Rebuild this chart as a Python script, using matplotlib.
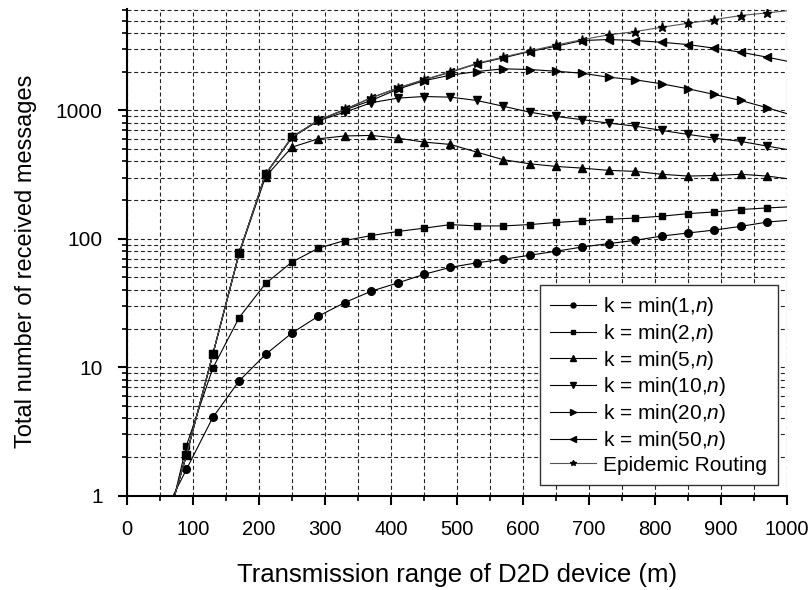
import matplotlib
matplotlib.use('Agg')
import matplotlib.pyplot as plt
from matplotlib.ticker import FixedLocator, LogLocator, NullFormatter, FixedFormatter

plt.rcParams['font.family'] = ['Liberation Sans', 'DejaVu Sans']
plt.rcParams['mathtext.fontset'] = 'custom'
plt.rcParams['mathtext.it'] = 'Liberation Sans:italic'
plt.rcParams['mathtext.rm'] = 'Liberation Sans'

# transmission range (m); first and last points carry no marker
x_range = [50, 90, 130, 170, 210, 250, 290, 330, 370, 410, 450, 490, 530,
           570, 610, 650, 690, 730, 770, 810, 850, 890, 930, 970, 1000]

k1 = [0.63, 1.60, 4.07, 7.84, 12.6, 18.5, 25.0, 31.9, 39.1, 45.3, 52.9, 60.0, 65.0,
      69.3, 74.5, 80.0, 86.4, 91.8, 97.3, 105, 111, 117, 125, 135, 139]
k2 = [0.33, 2.45, 9.84, 24.4, 44.9, 66.0, 84.5, 97.0, 106, 114, 121, 129, 126,
      126, 129, 134, 138, 142, 145, 150, 157, 162, 169, 174, 177]
k5 = [0.41, 2.07, 12.6, 77.0, 305, 517, 601, 632, 638, 608, 566, 543, 473,
      413, 384, 366, 355, 341, 335, 318, 308, 311, 318, 308, 294]
k10 = [0.41, 2.07, 12.6, 77.6, 318, 615, 830, 968, 1146, 1245, 1282, 1267, 1194,
       1077, 968, 897, 846, 796, 754, 698, 650, 608, 573, 527, 496]
k20 = [0.41, 2.07, 12.6, 77.6, 319, 619, 837, 1010, 1194, 1460, 1700, 1880, 2005,
       2105, 2080, 2017, 1945, 1811, 1729, 1610, 1472, 1330, 1194, 1047, 942]
k50 = [0.41, 2.07, 12.6, 77.6, 319, 620, 837, 1016, 1253, 1489, 1730, 1980, 2303,
       2563, 2870, 3157, 3497, 3559, 3497, 3390, 3252, 3048, 2837, 2594, 2415]
epidemic = [0.41, 2.07, 12.6, 77.6, 319, 620, 837, 1016, 1253, 1489, 1735, 1995, 2320,
            2600, 2900, 3220, 3560, 3870, 4104, 4436, 4766, 5093, 5471, 5741, 5960]

series = [
    (k1, 'o', 5.5, 'k = min(1,$n$)'),
    (k2, 's', 4.5, 'k = min(2,$n$)'),
    (k5, '^', 6.0, 'k = min(5,$n$)'),
    (k10, 'v', 6.0, 'k = min(10,$n$)'),
    (k20, '>', 6.0, 'k = min(20,$n$)'),
    (k50, '<', 6.0, 'k = min(50,$n$)'),
    (epidemic, '*', 6.5, 'Epidemic Routing'),
]

fig = plt.figure(figsize=(8.11, 5.90), dpi=100)
ax = fig.add_axes([0.1566, 0.1598, 0.8138, 0.8249])

for vals, mk, ms, lab in series:
    col = '#555555' if lab.startswith('Epidemic') else 'black'
    ax.plot(x_range, vals, color=col, lw=0.8, marker=mk, ms=ms,
            mfc='black', mec='black', markevery=slice(1, -1), label=lab)

ax.set_yscale('log')
ax.set_xlim(0, 1000)
ax.set_ylim(1, 6150)

ax.xaxis.set_major_locator(FixedLocator(range(0, 1001, 100)))
ax.xaxis.set_minor_locator(FixedLocator(range(50, 1000, 100)))
ax.yaxis.set_major_locator(FixedLocator([1, 10, 100, 1000]))
ax.yaxis.set_major_formatter(FixedFormatter(['1', '10', '100', '1000']))
ax.yaxis.set_minor_locator(LogLocator(base=10, subs=range(2, 10), numticks=20))
ax.yaxis.set_minor_formatter(NullFormatter())

dash = (0, (3.6, 2.4))
ax.grid(True, which='both', axis='both', color='#222222', lw=0.8, linestyle=dash)

for s in ['top', 'right']:
    ax.spines[s].set_visible(False)
for s in ['left', 'bottom']:
    ax.spines[s].set_linewidth(1.5)

ax.tick_params(axis='both', which='major', direction='out', length=6.5, width=1.5)
ax.tick_params(axis='both', which='minor', direction='out', length=3.6, width=1.2)
ax.tick_params(axis='x', which='major', labelsize=14.5, pad=11)
ax.tick_params(axis='y', which='major', labelsize=15, pad=11)

ax.set_xlabel('Transmission range of D2D device (m)', fontsize=18.5)
ax.set_ylabel('Total number of received messages', fontsize=17)
ax.xaxis.set_label_coords(0.5, -0.138)
ax.yaxis.set_label_coords(-0.136, 0.482)

leg = ax.legend(loc='lower right', bbox_to_anchor=(0.986, 0.022), borderaxespad=0,
                fontsize=15, frameon=True, fancybox=False, framealpha=1,
                edgecolor='#333333', handlelength=2.2, handletextpad=0.35,
                labelspacing=0.18, markerscale=0.65, borderpad=0.5)
leg.get_frame().set_linewidth(1.0)

fig.savefig('out.png', dpi=100)
